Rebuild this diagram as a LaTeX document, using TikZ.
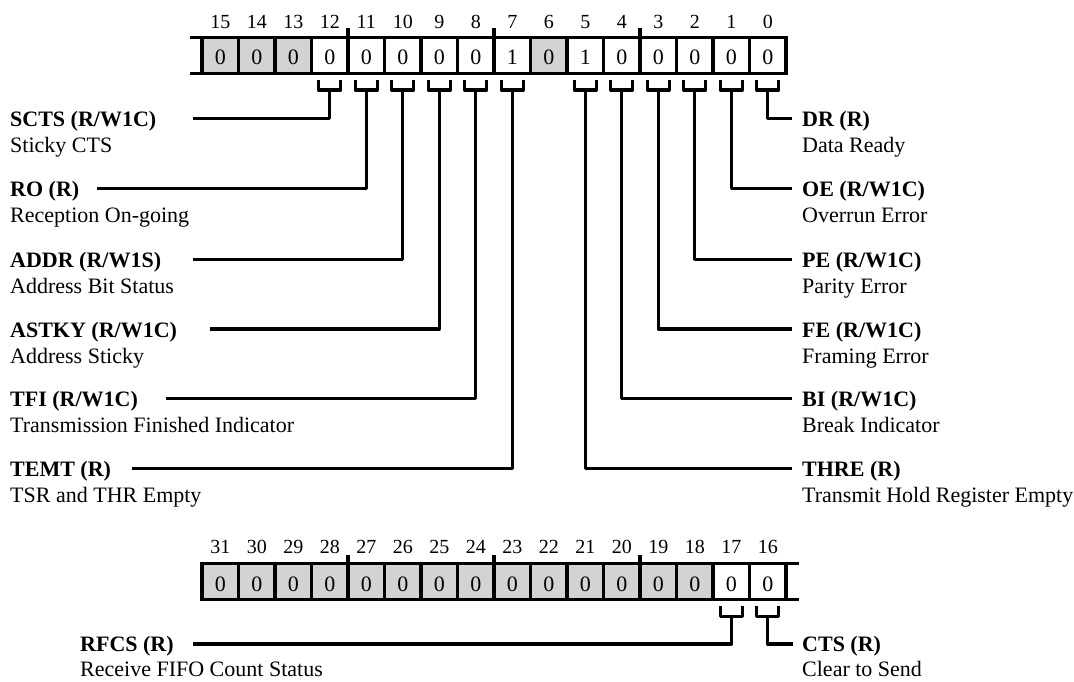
\documentclass[tikz,border=0pt]{standalone}
\usepackage{fontspec}
\setmainfont{Liberation Serif}
\begin{document}
\begin{tikzpicture}[x=1pt,y=-1pt,
  reg/.style={line width=3.3pt},
  cell/.style={draw, line width=3.3pt, minimum width=36.5pt, minimum height=36pt,
    inner sep=0pt, outer sep=0pt, text height=19pt, text depth=0pt,
    font=\fontsize{22}{26}\selectfont},
  rsv/.style={fill={rgb,255:red,211;green,211;blue,211}},
  wht/.style={fill=white},
  bitnum/.style={font=\fontsize{20}{24}\selectfont, inner sep=0pt, anchor=base},
  lead/.style={line width=3.3pt, line join=round},
  fname/.style={font=\fontsize{22}{26}\selectfont\bfseries, anchor=base west, inner sep=0pt},
  fdesc/.style={font=\fontsize{22}{26}\selectfont, anchor=base west, inner sep=0pt},
]
\useasboundingbox (0,0) rectangle (1074,681);

% ---------- top register (bits 15..0) ----------
\foreach \b/\v/\f in {15/0/rsv,14/0/rsv,13/0/rsv,12/0/wht,11/0/wht,10/0/wht,9/0/wht,8/0/wht,
                      7/1/wht,6/0/rsv,5/1/wht,4/0/wht,3/0/wht,2/0/wht,1/0/wht,0/0/wht}{
  \pgfmathsetmacro\cx{202+(15-\b+0.5)*36.5}
  \node[cell,\f] (t\b) at (\cx,55.3) {\v};
  \node[bitnum] (n\b) at (\cx,28.3) {\b};
}
\draw[reg] ([xshift=-12pt]t15.north west) -- (t15.north west);
\draw[reg] ([xshift=-12pt]t15.south west) -- (t15.south west);
\foreach \b in {12,8,4}{
  \draw[reg] (t\b.north east) -- ++(0,-9);
}

% brackets under top register
\foreach \b in {12,11,10,9,8,7,5,4,3,2,1,0}{
  \draw[lead] ([shift={(-11,6.7)}]t\b.south) -- ++(0,10) -- ++(22,0) -- ++(0,-10);
  \coordinate (k\b) at ([shift={(0,16.7)}]t\b.south);
}

% left fields
\foreach \b/\y/\xe/\nm/\ds in {
  12/118.5/193/{SCTS (R/W1C)}/{Sticky CTS},
  11/188.3/97/{RO (R)}/{Reception On-going},
  10/259.5/193/{ADDR (R/W1S)}/{Address Bit Status},
  9/329/210/{ASTKY (R/W1C)}/{Address Sticky},
  8/398.7/166/{TFI (R/W1C)}/{Transmission Finished Indicator},
  7/468.7/132/{TEMT (R)}/{TSR and THR Empty}}{
  \coordinate (e\b) at (\xe,\y);
  \draw[lead] (k\b) |- (e\b);
  \node[fname] (f\b) at (10,\y+8) {\nm};
  \node[fdesc] (d\b) at (10,\y+34) {\ds};
}

% right fields
\foreach \b/\y/\nm/\ds in {
  0/118.5/{DR (R)}/{Data Ready},
  1/188.3/{OE (R/W1C)}/{Overrun Error},
  2/259.5/{PE (R/W1C)}/{Parity Error},
  3/329/{FE (R/W1C)}/{Framing Error},
  4/398.7/{BI (R/W1C)}/{Break Indicator},
  5/468.7/{THRE (R)}/{Transmit Hold Register Empty}}{
  \coordinate (e\b) at (792,\y);
  \draw[lead] (k\b) |- (e\b);
  \node[fname] (f\b) at (802,\y+8) {\nm};
  \node[fdesc] (d\b) at (802,\y+34) {\ds};
}

% ---------- bottom register (bits 31..16) ----------
\foreach \b/\f in {31/rsv,30/rsv,29/rsv,28/rsv,27/rsv,26/rsv,25/rsv,24/rsv,
                   23/rsv,22/rsv,21/rsv,20/rsv,19/rsv,18/rsv,17/wht,16/wht}{
  \pgfmathsetmacro\cx{202+(31-\b+0.5)*36.5}
  \node[cell,\f] (t\b) at (\cx,581.7) {0};
  \node[bitnum] (n\b) at (\cx,553.5) {\b};
}
\draw[reg] (t16.north east) -- ([xshift=13pt]t16.north east);
\draw[reg] (t16.south east) -- ([xshift=13pt]t16.south east);
\foreach \b in {28,24,20}{
  \draw[reg] (t\b.north east) -- ++(0,-9);
}
\foreach \b in {17,16}{
  \draw[lead] ([shift={(-11,6.7)}]t\b.south) -- ++(0,10) -- ++(22,0) -- ++(0,-10);
  \coordinate (k\b) at ([shift={(0,16.7)}]t\b.south);
}
\coordinate (e17) at (193,644);
\draw[lead] (k17) |- (e17);
\node[fname] (f17) at (80,651.5) {RFCS (R)};
\node[fdesc] (d17) at (80,676) {Receive FIFO Count Status};
\coordinate (e16) at (793,644);
\draw[lead] (k16) |- (e16);
\node[fname] (f16) at (802,651.5) {CTS (R)};
\node[fdesc] (d16) at (802,676) {Clear to Send};
\end{tikzpicture}
\end{document}
